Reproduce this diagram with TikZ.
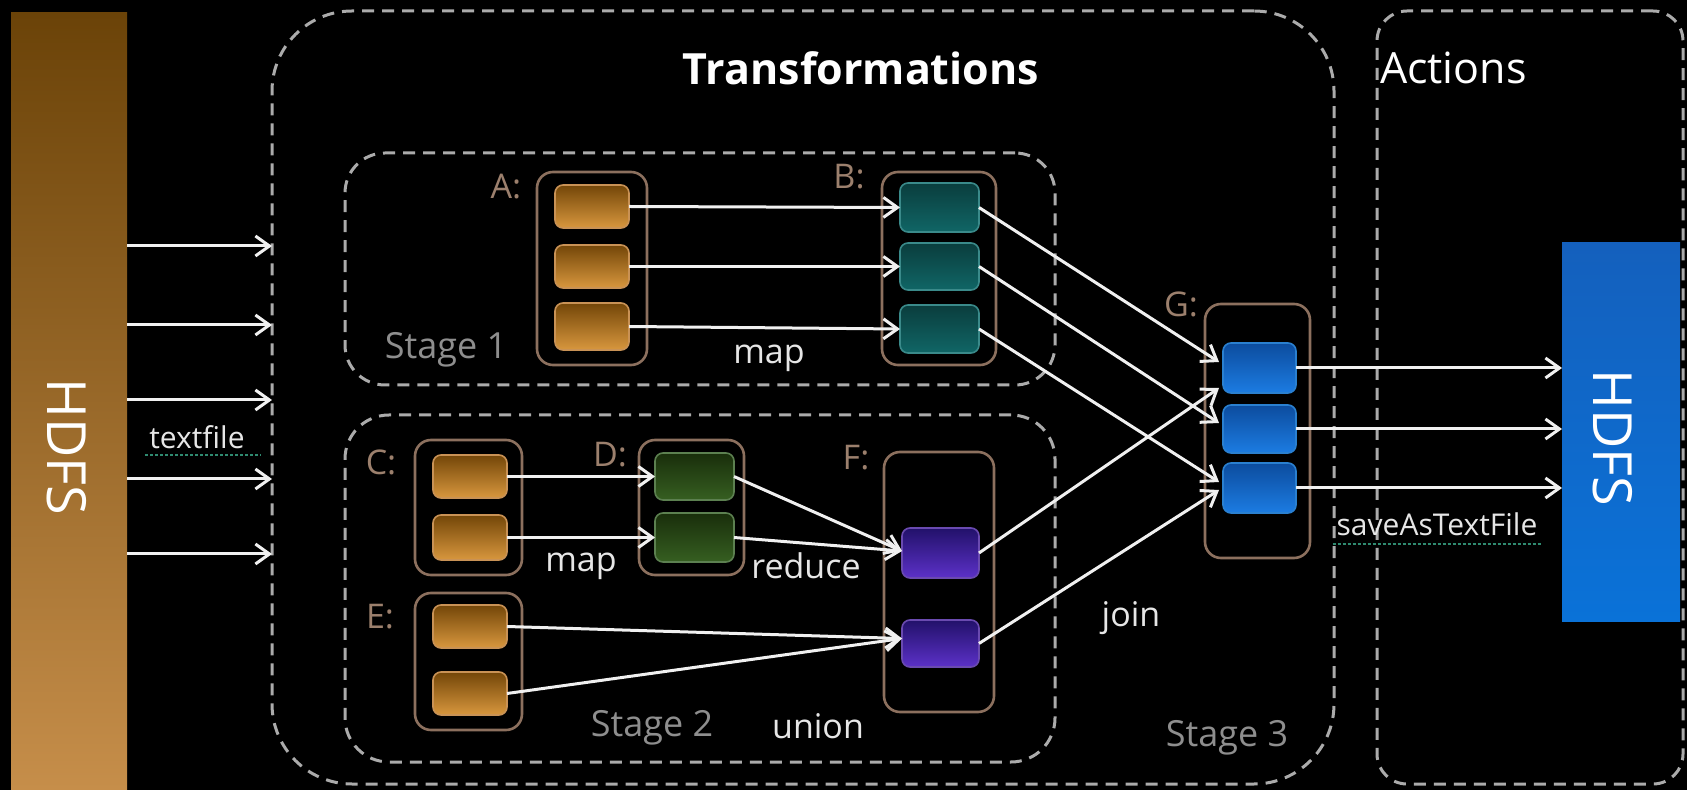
\documentclass[tikz,border=0pt]{standalone}
\usepackage{fontspec}
\setmainfont{Open Sans}
\usetikzlibrary{arrows.meta}
\definecolor{dashgray}{HTML}{ABABAB}
\definecolor{contbrown}{HTML}{8C705E}
\definecolor{otop}{HTML}{734608}
\definecolor{obot}{HTML}{D8973E}
\definecolor{oborder}{HTML}{C99255}
\definecolor{ttop}{HTML}{0A3D3D}
\definecolor{tbot}{HTML}{106666}
\definecolor{tborder}{HTML}{3A8A8A}
\definecolor{gtop}{HTML}{192E0B}
\definecolor{gbot}{HTML}{365F21}
\definecolor{gborder}{HTML}{5C8050}
\definecolor{ptop}{HTML}{22116A}
\definecolor{pbot}{HTML}{5C31C8}
\definecolor{pborder}{HTML}{6A4AB0}
\definecolor{btop}{HTML}{0C4C9E}
\definecolor{bbot}{HTML}{1C7CE2}
\definecolor{bborder}{HTML}{2A80D0}
\definecolor{hdfsltop}{HTML}{6B4308}
\definecolor{hdfslbot}{HTML}{C68E4A}
\definecolor{hdfsrtop}{HTML}{1460BD}
\definecolor{hdfsrbot}{HTML}{0A72D8}
\definecolor{lettercol}{HTML}{9C806D}
\definecolor{stagecol}{HTML}{8E8E8E}
\definecolor{opcol}{HTML}{E6E6E6}
\definecolor{arrwhite}{HTML}{F0F0F0}
\definecolor{squiggle}{HTML}{2F8A70}
\newcommand\pbox[6]{\node[#6, minimum width={(#4-#2)*0.5pt}, minimum height={(#5-#3)*0.5pt}] (#1) at ({(#2+#4)/2},{(#3+#5)/2}) {};}
\begin{document}
\begin{tikzpicture}[x=0.5pt,y=-0.5pt,
  every node/.style={inner sep=0pt, outer sep=0pt},
  dashbox/.style={draw=dashgray, line width=1.5pt, dash pattern=on 6pt off 4pt},
  cont/.style={draw=contbrown, line width=1.3pt, rounded corners=8pt},
  item/.style={rounded corners=4pt, line width=0.8pt},
  oitem/.style={item, draw=oborder, top color=otop, bottom color=obot},
  titem/.style={item, draw=tborder, top color=ttop, bottom color=tbot},
  gitem/.style={item, draw=gborder, top color=gtop, bottom color=gbot},
  pitem/.style={item, draw=pborder, top color=ptop, bottom color=pbot},
  bitem/.style={item, draw=bborder, top color=btop, bottom color=bbot},
  arr/.style={draw=arrwhite, line width=1.5pt, -{Straight Barb[length=7pt,width=10pt]}},
  lettr/.style={text=lettercol, font=\fontsize{17pt}{20pt}\selectfont},
  stagelbl/.style={text=stagecol, font=\fontsize{18pt}{21pt}\selectfont},
  oplbl/.style={text=opcol, font=\fontsize{17pt}{20pt}\selectfont},
  smalllbl/.style={text=opcol, font=\fontsize{15pt}{18pt}\selectfont},
  hdfslbl/.style={text=white, rotate=-90, font=\fontsize{27pt}{32pt}\selectfont}
]
\fill[black] (0,0) rectangle (1687,790);
\useasboundingbox (0,0) rectangle (1687,790);

% big regions
\pbox{hdfsL}{11}{13}{127}{790}{top color=hdfsltop, bottom color=hdfslbot}
\pbox{hdfsR}{1562}{243}{1680}{622}{top color=hdfsrtop, bottom color=hdfsrbot}
\pbox{trans}{272}{11}{1334}{784}{dashbox, rounded corners=40pt}
\pbox{actions}{1377}{11}{1683}{784}{dashbox, rounded corners=15pt}
\pbox{stage1}{345}{153}{1055}{385}{dashbox, rounded corners=20pt}
\pbox{stage2}{345}{415}{1055}{762}{dashbox, rounded corners=22pt}

\node[hdfslbl] (hdfsLtxt) at (67,447) {HDFS};
\node[hdfslbl] (hdfsRtxt) at (1613,438) {HDFS};
\node[text=white, font=\bfseries\fontsize{21.5pt}{25pt}\selectfont] (ttrans) at (861,68) {Transformations};
\node[text=white, anchor=west, font=\fontsize{21.5pt}{25pt}\selectfont] (tact) at (1380,68) {Actions};

% containers
\pbox{A}{537}{172}{647}{365}{cont}
\pbox{B}{882}{172}{996}{365}{cont}
\pbox{C}{415}{440}{522}{575}{cont}
\pbox{D}{639}{440}{744}{575}{cont}
\pbox{E}{415}{593}{522}{730}{cont}
\pbox{F}{884}{452}{994}{712}{cont}
\pbox{G}{1205}{304}{1310}{558}{cont}

% items
\pbox{A1}{555}{185}{629}{228}{oitem}
\pbox{A2}{555}{245}{629}{288}{oitem}
\pbox{A3}{555}{303}{629}{350}{oitem}
\pbox{B1}{900}{183}{979}{232}{titem}
\pbox{B2}{900}{243}{979}{290}{titem}
\pbox{B3}{900}{305}{979}{353}{titem}
\pbox{C1}{433}{455}{507}{498}{oitem}
\pbox{C2}{433}{515}{507}{560}{oitem}
\pbox{D1}{655}{453}{734}{500}{gitem}
\pbox{D2}{655}{513}{734}{562}{gitem}
\pbox{E1}{433}{605}{507}{648}{oitem}
\pbox{E2}{433}{672}{507}{715}{oitem}
\pbox{F1}{902}{528}{979}{578}{pitem}
\pbox{F2}{902}{620}{979}{667}{pitem}
\pbox{G1}{1223}{343}{1296}{393}{bitem}
\pbox{G2}{1223}{405}{1296}{453}{bitem}
\pbox{G3}{1223}{463}{1296}{513}{bitem}

% letter labels
\node[lettr] (lA) at (506,187) {A:};
\node[lettr] (lB) at (849,177) {B:};
\node[lettr] (lC) at (381,462) {C:};
\node[lettr] (lD) at (610,455) {D:};
\node[lettr] (lE) at (380,617) {E:};
\node[lettr] (lF) at (856,458) {F:};
\node[lettr] (lG) at (1181,304) {G:};

% stage labels
\node[stagelbl] (s1) at (446,350) {Stage 1};
\node[stagelbl] (s2) at (652,728) {Stage 2};
\node[stagelbl] (s3) at (1227,738) {Stage 3};

% operation labels
\node[oplbl] (opmap1) at (769,358) {map};
\node[oplbl] (opmap2) at (581,566) {map};
\node[oplbl] (opreduce) at (806,566) {reduce};
\node[oplbl] (opunion) at (818,726) {union};
\node[oplbl] (opjoin) at (1131,618) {join};
\node[smalllbl] (ltext) at (197,437) {textfile};
\node[smalllbl] (lsave) at (1437,524) {saveAsTextFile};
\draw[squiggle, line width=1pt, dash pattern=on 1.5pt off 1pt] (ltext.south west) ++(-2pt,-3pt) -- ++(58pt,0);
\draw[squiggle, line width=1pt, dash pattern=on 1.5pt off 1pt] (lsave.south west) ++(-2pt,-4pt) -- ++(104pt,0);

% input arrows
\foreach \yy in {246,325,400,479,554}
  \draw[arr] (hdfsL.east |- 0,\yy) -- (trans.west |- 0,\yy);

% stage 1
\draw[arr] (A1.east) -- (B1.west);
\draw[arr] (A2.east) -- (B2.west);
\draw[arr] (A3.east) -- (B3.west);
% stage 2
\draw[arr] (C1.east) -- (D1.west);
\draw[arr] (C2.east) -- (D2.west);
\draw[arr] (D1.east) -- ([yshift=1pt]F1.west);
\draw[arr] (D2.east) -- ([yshift=1pt]F1.west);
\draw[arr] (E1.east) -- ([yshift=2.5pt]F2.west);
\draw[arr] (E2.east) -- ([yshift=2.5pt]F2.west);
% stage 3
\draw[arr] (B1.east) -- ([yshift=3pt,xshift=-2pt]G1.west);
\draw[arr] (B2.east) -- ([yshift=3pt,xshift=-2pt]G2.west);
\draw[arr] (B3.east) -- ([yshift=3pt,xshift=-2pt]G3.west);
\draw[arr] (F1.east) -- ([yshift=-10pt,xshift=-2pt]G1.west);
\draw[arr] (F2.east) -- ([yshift=-1pt,xshift=-2pt]G3.west);
% actions
\draw[arr] (G1.east) -- (G1.east -| hdfsR.west);
\draw[arr] (G2.east) -- (G2.east -| hdfsR.west);
\draw[arr] (G3.east) -- (G3.east -| hdfsR.west);
\end{tikzpicture}
\end{document}
